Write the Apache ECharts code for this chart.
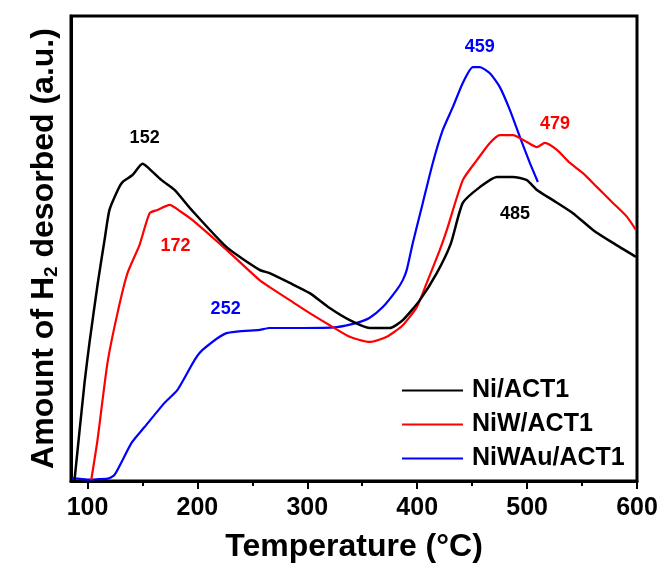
<!DOCTYPE html>
<html>
<head>
<meta charset="utf-8">
<script src="https://cdn.jsdelivr.net/npm/echarts@6/dist/echarts.min.js"></script>
<style>html,body{margin:0;padding:0;background:#fff}#c{width:659px;height:565px}</style>
</head>
<body>
<div id="c"></div>
<script>
// Temperature (°C) and desorbed H2 (a.u., 0-100 scale)
var seriesNames = ['Ni/ACT1', 'NiW/ACT1', 'NiWAu/ACT1'];

var niT = [88.2, 97.3, 101.8, 109.4, 115.5, 120.0, 127.6, 131.9, 141.0, 150.1, 154.6, 167.4, 179.2, 194.7, 226.6, 256.6, 265.7, 284.0, 302.2, 320.4, 338.6, 356.8, 375.0, 386.9, 402.4, 417.8, 430.5, 441.5, 457.0, 472.5, 487.1, 499.8, 508.9, 523.5, 541.7, 559.9, 578.1, 599.0];
var niY = [0.2, 21.1, 29.7, 42.6, 51.8, 58.3, 62.6, 64.3, 65.8, 68.2, 67.5, 64.7, 62.6, 58.3, 50.3, 45.4, 44.7, 42.6, 40.4, 37.2, 34.6, 32.9, 32.9, 34.6, 38.9, 44.7, 51.0, 59.8, 63.2, 65.4, 65.4, 64.7, 62.6, 60.4, 57.6, 54.0, 51.2, 48.2];

var niwT = [103.4, 109.1, 118.2, 127.3, 136.4, 147.4, 156.5, 163.7, 174.7, 185.6, 195.6, 226.6, 256.6, 265.7, 284.0, 302.2, 320.4, 338.6, 356.8, 372.3, 386.9, 399.6, 408.7, 420.6, 427.0, 441.5, 454.3, 466.1, 475.2, 487.1, 499.8, 508.9, 516.2, 527.1, 539.0, 550.8, 563.6, 578.1, 590.9, 599.0];
var niwY = [0.2, 8.8, 25.4, 36.1, 44.7, 50.8, 57.6, 58.3, 59.4, 57.8, 56.1, 49.7, 43.2, 41.7, 38.9, 36.1, 33.5, 31.0, 29.9, 31.0, 33.5, 37.4, 42.6, 49.7, 54.0, 64.7, 69.0, 72.7, 74.4, 74.4, 72.9, 71.8, 72.7, 71.2, 68.4, 66.2, 63.2, 59.8, 56.8, 54.0];

var niwauT = [86.0, 100.0, 110.0, 118.2, 124.6, 140.1, 151.9, 170.1, 181.9, 197.4, 204.7, 226.6, 256.6, 265.7, 295.8, 326.8, 345.0, 356.8, 368.7, 381.4, 386.9, 390.5, 396.0, 405.1, 414.2, 423.3, 432.4, 441.5, 450.6, 457.0, 466.1, 475.2, 484.3, 493.4, 502.5, 509.8];
var niwauY = [0.6, 0.3, 0.4, 0.5, 1.3, 8.2, 11.6, 16.8, 19.6, 26.0, 28.2, 31.8, 32.5, 32.9, 32.9, 33.1, 34.0, 35.1, 37.4, 41.1, 43.2, 45.4, 51.2, 59.8, 68.4, 75.5, 80.4, 85.6, 89.0, 89.0, 87.7, 84.7, 79.8, 74.0, 68.4, 64.3];

// peak annotations: text, temperature position, signal position, series index
var peakText = ['152', '172', '252', '459', '479', '485'];
var peakT = [152, 180.1, 225.7, 457, 525.3, 488.9];
var peakY = [73.8, 50.5, 37.0, 93.3, 76.8, 57.4];
var peakSeries = [0, 1, 2, 2, 1, 0];

var majorTicks = [100, 200, 300, 400, 500, 600];
var minorTicks = [150, 250, 350, 450, 550];

var colors = ['#000000', '#ff0000', '#0000ff'];
var FONT = '"Liberation Sans", Arial, sans-serif';

function zip(a, b) { return a.map(function (v, i) { return [v, b[i]]; }); }

var chart = echarts.init(document.getElementById('c'), null, { renderer: 'canvas' });

var lineData = [zip(niT, niY), zip(niwT, niwY), zip(niwauT, niwauY)];
var series = lineData.map(function (d, i) {
  return {
    name: seriesNames[i], type: 'line', data: d, showSymbol: false, symbol: 'none',
    lineStyle: { color: colors[i], width: i === 0 ? 2.5 : 2.2 }, itemStyle: { color: colors[i] },
    smooth: 0.2, z: 3 + (2 - i), animation: false
  };
});
series.push({
  name: 'peaks', type: 'scatter', symbolSize: 1, animation: false, z: 10,
  itemStyle: { color: 'rgba(0,0,0,0)', opacity: 1 },
  data: peakText.map(function (t, i) {
    return {
      name: t, value: [peakT[i], peakY[i]],
      label: { show: true, position: 'inside', formatter: '{b}', color: colors[peakSeries[i]],
        opacity: 1, textBorderWidth: 0, textShadowBlur: 0,
        fontFamily: FONT, fontWeight: 'bold', fontSize: 18 }
    };
  })
});

chart.setOption({
  animation: false,
  backgroundColor: '#ffffff',
  grid: { left: 71, right: 22, top: 16, bottom: 84, show: true, borderColor: '#000', borderWidth: 3,
    backgroundColor: 'transparent', containLabel: false, outerBoundsMode: 'none' },
  legend: {
    orient: 'vertical', left: 397, top: 373, itemGap: 9,
    itemWidth: 61, itemHeight: 2, icon: 'rect',
    data: seriesNames,
    textStyle: { fontFamily: FONT, fontWeight: 'bold', fontSize: 25, color: '#000', lineHeight: 25, padding: [0, 0, 0, 4] }
  },
  xAxis: [{
    type: 'value', min: 85, max: 600, position: 'bottom',
    name: 'Temperature (°C)', nameLocation: 'middle', nameGap: 50,
    nameTextStyle: { fontFamily: FONT, fontWeight: 'bold', fontSize: 32, color: '#000' },
    axisLine: { show: true, lineStyle: { color: '#000', width: 3 } },
    axisTick: { show: true, inside: false, length: 8, lineStyle: { color: '#000', width: 2 }, customValues: majorTicks },
    axisLabel: { show: true, margin: 15, fontFamily: FONT, fontWeight: 'bold', fontSize: 25, color: '#000', customValues: majorTicks },
    splitLine: { show: false }
  }, {
    type: 'value', min: 85, max: 600, position: 'bottom',
    axisLine: { show: false },
    axisTick: { show: true, inside: false, length: 5, lineStyle: { color: '#000', width: 2 }, customValues: minorTicks },
    axisLabel: { show: false },
    splitLine: { show: false }
  }],
  yAxis: {
    type: 'value', min: 0, max: 100,
    name: 'Amount of H{sub|2} desorbed (a.u.)', nameLocation: 'middle', nameGap: 10,
    nameTextStyle: {
      fontFamily: FONT, fontWeight: 'bold', fontSize: 32, color: '#000',
      rich: { sub: { fontFamily: FONT, fontWeight: 'bold', fontSize: 19, color: '#000', verticalAlign: 'bottom', padding: [14, 0, 0, 0] } }
    },
    axisLine: { show: true, lineStyle: { color: '#000', width: 3 } },
    axisTick: { show: false }, axisLabel: { show: false }, splitLine: { show: false }
  },
  series: series
});
</script>
</body>
</html>
